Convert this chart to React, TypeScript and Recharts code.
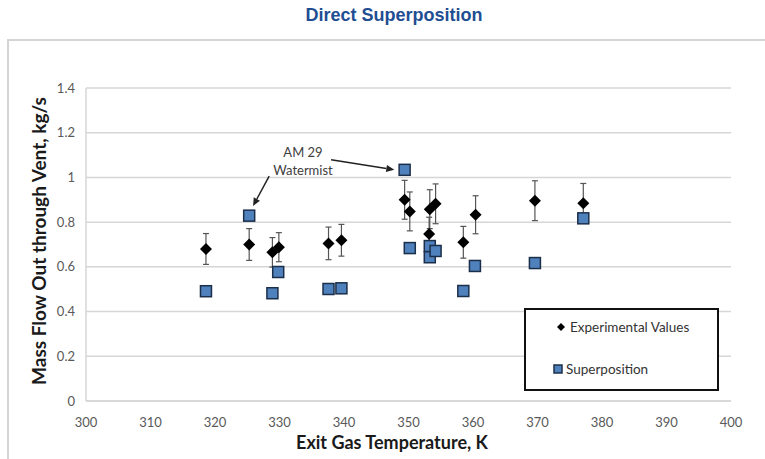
import React from 'react';
import { ScatterChart, Scatter, XAxis, YAxis, CartesianGrid, ErrorBar, ReferenceLine } from 'recharts';

// experimental values (diamonds) with error bars
const expTemp = [318.6, 325.3, 328.9, 329.9, 337.6, 339.6, 349.4, 350.2, 353.3, 353.2, 354.2, 358.5, 360.4, 369.6, 377.1];
const expFlow = [0.68, 0.7, 0.665, 0.688, 0.705, 0.719, 0.9, 0.848, 0.858, 0.747, 0.882, 0.71, 0.833, 0.896, 0.885];
const expErr = [0.069, 0.071, 0.066, 0.065, 0.073, 0.071, 0.087, 0.087, 0.087, 0.075, 0.089, 0.071, 0.085, 0.089, 0.088];

// superposition prediction (squares)
const supTemp = [318.6, 325.3, 328.9, 329.8, 337.6, 339.6, 349.4, 350.2, 353.3, 353.3, 354.2, 358.5, 360.3, 369.6, 377.1];
const supFlow = [0.491, 0.829, 0.482, 0.577, 0.501, 0.504, 1.034, 0.684, 0.693, 0.643, 0.671, 0.492, 0.604, 0.617, 0.817];

const xTicks = [300, 310, 320, 330, 340, 350, 360, 370, 380, 390, 400];
const yTicks = [0, 0.2, 0.4, 0.6, 0.8, 1, 1.2, 1.4];

const expData = expTemp.map((t, i) => ({ x: t, y: expFlow[i], err: expErr[i] }));
const supData = supTemp.map((t, i) => ({ x: t, y: supFlow[i] }));

const TICK_FONT = 'Lato, "Open Sans", sans-serif';

const Diamond = (props: any) => {
  const { cx, cy } = props;
  const r = 6;
  return <path d={`M${cx},${cy - r}L${cx + r},${cy}L${cx},${cy + r}L${cx - r},${cy}Z`} fill="#000" />;
};

const Square = (props: any) => {
  const { cx, cy } = props;
  const s = 11;
  return <rect x={cx - s / 2} y={cy - s / 2} width={s} height={s} fill="#4f81bd" stroke="#1c2f4a" strokeWidth={1.5} />;
};

const Arrow = (props: any) => {
  const { x1, y1, x2, y2 } = props;
  const a = Math.atan2(y2 - y1, x2 - x1);
  const len = 8;
  const w = 3.5;
  const bx = x2 - len * Math.cos(a);
  const by = y2 - len * Math.sin(a);
  const px = -Math.sin(a) * w;
  const py = Math.cos(a) * w;
  return (
    <g>
      <line x1={x1} y1={y1} x2={bx} y2={by} stroke="#222" strokeWidth={1.5} />
      <path d={`M${x2},${y2}L${bx + px},${by + py}L${bx - px},${by - py}Z`} fill="#222" />
    </g>
  );
};

export default function App() {
  return (
    <div style={{ position: 'absolute', left: 0, top: 0, width: 765, height: 459, overflow: 'hidden', background: '#fff' }}>
      <div style={{ position: 'absolute', left: 7, top: 39, width: 800, height: 500, borderLeft: '2px solid #d4d4d4', borderTop: '2px solid #d4d4d4' }} />
      <div style={{ position: 'absolute', left: 0, width: 788, top: 5, textAlign: 'center', font: 'bold 18px "Liberation Sans", Arial, sans-serif', color: '#1f4e93' }}>
        Direct Superposition
      </div>
      <ScatterChart width={765} height={459} margin={{ top: 88, right: 34, bottom: 0, left: 0 }} style={{ position: 'absolute', left: 0, top: 0 }}>
        <CartesianGrid vertical={false} stroke="#d6d6d6" strokeWidth={1.5} />
        <XAxis
          type="number"
          dataKey="x"
          domain={[300, 400]}
          ticks={xTicks}
          height={58}
          tickLine={false}
          tickMargin={11}
          axisLine={{ stroke: '#d6d6d6', strokeWidth: 1.5 }}
          tick={{ fill: '#595959', fontSize: 13, fontFamily: TICK_FONT }}
        />
        <YAxis
          type="number"
          dataKey="y"
          domain={[0, 1.4]}
          ticks={yTicks}
          width={86}
          tickLine={false}
          tickMargin={5}
          axisLine={{ stroke: '#d6d6d6', strokeWidth: 1.5 }}
          tick={{ fill: '#595959', fontSize: 13, fontFamily: TICK_FONT }}
        />
        <ReferenceLine segment={[{ x: 328.4, y: 1.006 }, { x: 325.9, y: 0.872 }]} shape={Arrow} />
        <ReferenceLine segment={[{ x: 338.0, y: 1.079 }, { x: 347.8, y: 1.034 }]} shape={Arrow} />
        <Scatter data={expData} shape={Diamond} isAnimationActive={false}>
          <ErrorBar dataKey="err" direction="y" width={3} stroke="#555" strokeWidth={1.2} />
        </Scatter>
        <Scatter data={supData} shape={Square} isAnimationActive={false} />
      </ScatterChart>
      <div style={{ position: 'absolute', left: 253, top: 143, width: 100, textAlign: 'center', font: `13px ${TICK_FONT}`, color: '#404040', lineHeight: '18px' }}>
        AM 29
        <br />
        Watermist
      </div>
      <div style={{ position: 'absolute', left: 2, top: 241, width: 0, height: 0 }}>
        <div style={{ position: 'absolute', left: 36, top: 0, transform: 'translate(-50%,-50%) rotate(-90deg)', whiteSpace: 'nowrap', font: `bold 19px ${TICK_FONT}`, color: '#1a1a1a' }}>
          Mass Flow Out through Vent, kg/s
        </div>
      </div>
      <div style={{ position: 'absolute', left: 392, top: 442, transform: 'translate(-50%,-50%)', whiteSpace: 'nowrap', font: `bold 18px ${TICK_FONT}`, color: '#1a1a1a' }}>
        Exit Gas Temperature, K
      </div>
      <div style={{ position: 'absolute', left: 524, top: 308, width: 191, height: 79, border: '2px solid #111', background: '#fff', font: `13.5px ${TICK_FONT}`, color: '#333' }}>
        <div style={{ position: 'absolute', left: 30, top: 9, display: 'flex', alignItems: 'center' }}>
          <svg width={10} height={10} style={{ marginRight: 4 }}>
            <path d="M5,1L9,5L5,9L1,5Z" fill="#000" />
          </svg>
          Experimental Values
        </div>
        <div style={{ position: 'absolute', left: 27, top: 51, display: 'flex', alignItems: 'center' }}>
          <svg width={10} height={10} style={{ marginRight: 3 }}>
            <rect x={1} y={1} width={8} height={8} fill="#4f81bd" stroke="#1c2f4a" strokeWidth={1.5} />
          </svg>
          Superposition
        </div>
      </div>
    </div>
  );
}
